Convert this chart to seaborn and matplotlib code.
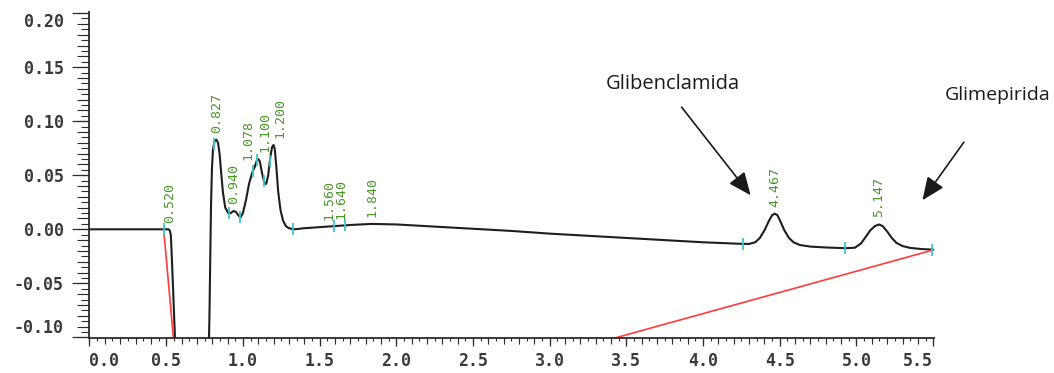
import numpy as np
import pandas as pd
import matplotlib
matplotlib.use("Agg")
import matplotlib.pyplot as plt
from matplotlib.ticker import MultipleLocator, FixedLocator, NullFormatter
import seaborn as sns

# Chromatogram trace: retention time (min) vs detector response (AU)
time_min = [
    0.000, 0.250, 0.500, 0.515, 0.523, 0.530, 0.535, 0.545, 0.557, 0.565,
    0.775, 0.782, 0.787, 0.792, 0.798, 0.805, 0.815, 0.827, 0.838, 0.848,
    0.858, 0.870, 0.885, 0.905, 0.920, 0.940, 0.955, 0.970, 0.985, 1.000,
    1.020, 1.040, 1.060, 1.078, 1.092, 1.100, 1.110, 1.125, 1.140, 1.152,
    1.165, 1.178, 1.190, 1.200, 1.208, 1.218, 1.230, 1.245, 1.262, 1.280,
    1.300, 1.335, 1.400, 1.500, 1.600, 1.700, 1.840, 2.000, 2.250, 2.500,
    2.750, 3.000, 3.250, 3.500, 3.750, 4.000, 4.260, 4.300, 4.340, 4.370,
    4.400, 4.430, 4.450, 4.467, 4.485, 4.505, 4.530, 4.560, 4.590, 4.630,
    4.700, 4.800, 4.930, 4.990, 5.030, 5.060, 5.090, 5.120, 5.147, 5.170,
    5.200, 5.230, 5.260, 5.300, 5.350, 5.420, 5.500,
]
response_au = [
    0.0000, 0.0000, 0.0000, 0.0000, -0.0010, -0.0050, -0.0200, -0.0550, -0.1000, -0.1300,
    -0.1300, -0.0800, -0.0300, 0.0200, 0.0550, 0.0740, 0.0815, 0.0830, 0.0800, 0.0700,
    0.0530, 0.0340, 0.0200, 0.0150, 0.0150, 0.0170, 0.0160, 0.0130, 0.0110, 0.0150,
    0.0270, 0.0420, 0.0520, 0.0580, 0.0640, 0.0650, 0.0630, 0.0520, 0.0430, 0.0420,
    0.0500, 0.0660, 0.0760, 0.0780, 0.0740, 0.0580, 0.0350, 0.0180, 0.0080, 0.0030,
    0.0010, 0.0000, 0.0010, 0.0020, 0.0030, 0.0040, 0.0050, 0.0045, 0.0025, 0.0005,
    -0.0015, -0.0040, -0.0060, -0.0080, -0.0100, -0.0120, -0.0135, -0.0135, -0.0120, -0.0080,
    -0.0010, 0.0080, 0.0130, 0.0145, 0.0130, 0.0070, -0.0010, -0.0080, -0.0120, -0.0145,
    -0.0160, -0.0168, -0.0175, -0.0170, -0.0130, -0.0070, -0.0010, 0.0030, 0.0045, 0.0030,
    -0.0020, -0.0080, -0.0125, -0.0155, -0.0172, -0.0182, -0.0188,
]

# Integration baselines
baseline1_time = [0.486, 0.552]
baseline1_au = [-0.004, -0.108]
baseline2_time = [3.413, 5.490]
baseline2_au = [-0.101, -0.0195]

# Peak start / end markers
marker_time = [0.486, 0.812, 0.909, 0.981, 1.066, 1.092, 1.137, 1.176,
               1.326, 1.594, 1.666, 4.260, 4.925, 5.490]

# Retention time labels
rt_labels = [0.520, 0.827, 0.940, 1.078, 1.100, 1.200, 1.560, 1.640, 1.840,
             4.467, 5.147]

x_ticks = [0.0, 0.5, 1.0, 1.5, 2.0, 2.5, 3.0, 3.5, 4.0, 4.5, 5.0, 5.5]
y_ticks = [-0.10, -0.05, 0.00, 0.05, 0.10, 0.15, 0.20]

compounds = ["Glibenclamida", "Glimepirida"]

trace = pd.DataFrame({"time": time_min, "au": response_au})

sns.set_style("ticks")
plt.rcParams["font.family"] = ["DejaVu Sans"]

fig = plt.figure(figsize=(10.54, 3.73), dpi=100)
ax = fig.add_axes([0.0849, 0.0925, 0.8012, 0.8753])

ink = "#2b2b2b"
sns.lineplot(data=trace, x="time", y="au", ax=ax, color="#1e1e1e",
             linewidth=1.5, estimator=None, sort=False)
sns.lineplot(x=baseline1_time, y=baseline1_au, ax=ax, color="#ff3b3b",
             linewidth=1.2, estimator=None)
sns.lineplot(x=baseline2_time, y=baseline2_au, ax=ax, color="#ff3b3b",
             linewidth=1.2, estimator=None)

mk_y = np.interp(marker_time, time_min, response_au)
ax.plot(marker_time, mk_y, linestyle="none", marker="|", markersize=8,
        markeredgewidth=1.3, color="#3cc8cc", zorder=4)

# crowded neighbours sit on either side of their retention time
label_align = {1.078: "right", 1.100: "left", 1.200: "left"}
for rt in rt_labels:
    yv = float(np.interp(rt, time_min, response_au))
    ax.annotate(f"{rt:.3f}", xy=(rt, yv), xytext=(0, 5),
                textcoords="offset points", rotation=90,
                ha=label_align.get(rt, "center"), va="bottom", fontsize=9.5,
                family="DejaVu Sans Mono", color="#4a962a", zorder=5)

ax.set_xlim(0, 5.505)
ax.set_ylim(-0.101, 0.201)
ax.set_xlabel("")
ax.set_ylabel("")
sns.despine(ax=ax)
for side in ("left", "bottom"):
    ax.spines[side].set_color(ink)
    ax.spines[side].set_linewidth(1.3)

tick_font = dict(family="DejaVu Sans Mono", weight="bold", size=12)
ax.xaxis.set_major_locator(FixedLocator(x_ticks))
ax.xaxis.set_minor_locator(MultipleLocator(0.05))
ax.set_xticklabels([f"{v:.1f}" for v in x_ticks], color="#3a3a3a", **tick_font)
ax.yaxis.set_major_locator(FixedLocator(y_ticks))
ax.yaxis.set_minor_locator(MultipleLocator(0.005))
ax.set_yticklabels([f"{v:.2f}" for v in y_ticks], color="#3a3a3a", **tick_font)

xl = ax.get_xticklabels()
xl[0].set_ha("left")
xl[-1].set_ha("right")
yl = ax.get_yticklabels()
yl[0].set_va("bottom")
yl[-1].set_va("top")

ax.tick_params(axis="y", which="major", length=12.5, width=0.9, color=ink, pad=6)
ax.tick_params(axis="y", which="minor", length=5.5, width=0.8, color=ink)
ax.tick_params(axis="x", which="major", length=6, width=0.9, color=ink, pad=4)
ax.tick_params(axis="x", which="minor", length=2.5, width=0.8, color=ink)

# medium ticks between major and minor
sy = ax.secondary_yaxis("left")
sy.yaxis.set_major_locator(MultipleLocator(0.01))
sy.yaxis.set_major_formatter(NullFormatter())
sy.tick_params(length=8.5, width=0.8, color=ink)
sy.spines["left"].set_visible(False)
sx = ax.secondary_xaxis("bottom")
sx.xaxis.set_major_locator(MultipleLocator(0.1))
sx.xaxis.set_major_formatter(NullFormatter())
sx.tick_params(length=4, width=0.8, color=ink)
sx.spines["bottom"].set_visible(False)

# compound annotations
arrow = dict(arrowstyle="-|>,head_length=0.7,head_width=0.3",
             color="#1a1a1a", lw=1.2, mutation_scale=20, shrinkA=0, shrinkB=0)
ax.annotate("", xy=(4.31, 0.0315), xytext=(3.86, 0.113), arrowprops=arrow,
            annotation_clip=False)
ax.annotate("", xy=(5.43, 0.0269), xytext=(5.70, 0.0806), arrowprops=arrow,
            annotation_clip=False)
ax.text(3.80, 0.1296, compounds[0], ha="center", va="baseline",
        family="Open Sans", fontsize=14.5, color="#1a1a1a", clip_on=False)
ax.text(5.92, 0.1200, compounds[1], ha="center", va="baseline",
        family="Open Sans", fontsize=14, color="#1a1a1a", clip_on=False)

fig.savefig("out.png", dpi=100)
